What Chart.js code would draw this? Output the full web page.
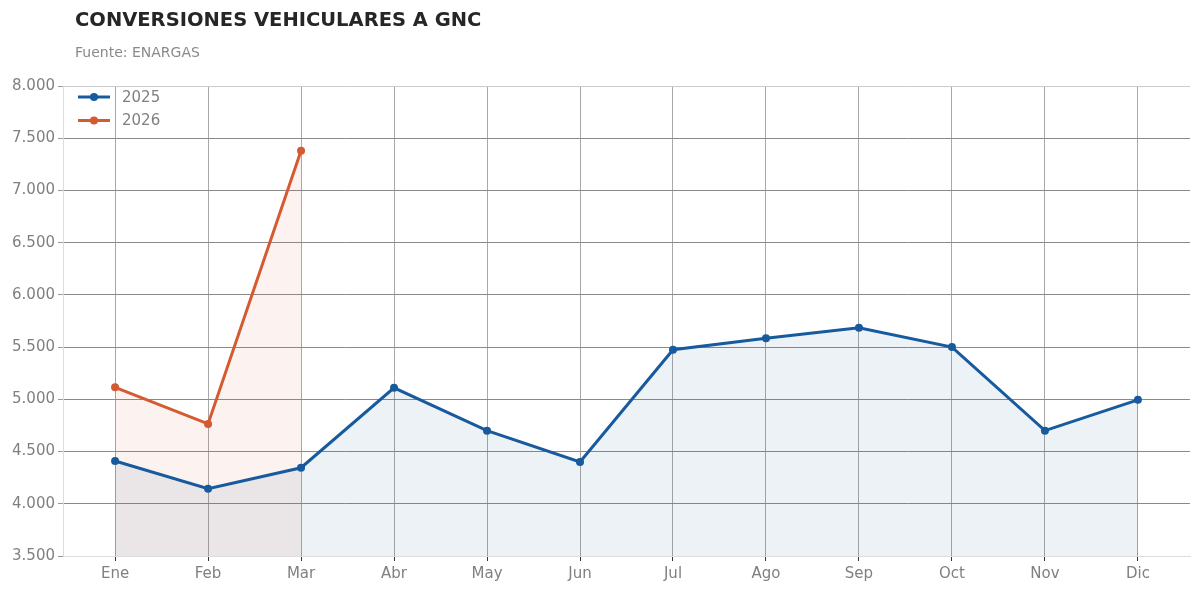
<!DOCTYPE html>
<html>
<head>
<meta charset="utf-8">
<script src="https://cdn.jsdelivr.net/npm/chart.js@4.4.0/dist/chart.umd.min.js"></script>
<style>
  html, body { margin: 0; padding: 0; background: #fff; }
  #wrap { width: 1200px; height: 592px; }
</style>
</head>
<body>
<div id="wrap"><canvas id="chart" width="1200" height="592"></canvas></div>
<script>
// Data
const months = ['Ene', 'Feb', 'Mar', 'Abr', 'May', 'Jun', 'Jul', 'Ago', 'Sep', 'Oct', 'Nov', 'Dic'];
const values2025 = [4410, 4145, 4345, 5110, 4700, 4400, 5475, 5585, 5685, 5500, 4700, 4995];
const values2026 = [5115, 4765, 7380];
const yTicks = [3500, 4000, 4500, 5000, 5500, 6000, 6500, 7000, 7500, 8000];

const FONT = "'DejaVu Sans', sans-serif";
const BLUE = 'rgb(24, 90, 158)';
const ORANGE = 'rgb(212, 90, 50)';

const toPoints = (arr) => arr.map((v, i) => ({ x: i, y: v }));
const fmt = (v) => String(v).replace(/\B(?=(\d{3})+(?!\d))/g, '.');

/**
 * Title, subtitle and in-plot legend
 */
const decorations = {
  id: 'decorations',
  afterDraw: function(chart) {
    const ctx = chart.ctx;
    const area = chart.chartArea;
    ctx.save();
    ctx.textBaseline = 'alphabetic';
    ctx.textAlign = 'left';
    ctx.fillStyle = '#262626';
    ctx.font = 'bold 19.5px ' + FONT;
    ctx.fillText('CONVERSIONES VEHICULARES A GNC', 75, 26);
    ctx.fillStyle = '#8a8a8a';
    ctx.font = '14px ' + FONT;
    ctx.fillText('Fuente: ENARGAS', 75, 57);

    // legend
    ctx.font = '15px ' + FONT;
    ctx.textBaseline = 'middle';
    chart.data.datasets.forEach((ds, i) => {
      const y = area.top + 11 + i * 23.5;
      const x0 = area.left + 15;
      ctx.strokeStyle = ds.borderColor;
      ctx.lineWidth = 3;
      ctx.beginPath();
      ctx.moveTo(x0, y);
      ctx.lineTo(x0 + 32, y);
      ctx.stroke();
      ctx.fillStyle = ds.borderColor;
      ctx.beginPath();
      ctx.arc(x0 + 16, y, 4, 0, Math.PI * 2);
      ctx.fill();
      ctx.fillStyle = '#808080';
      ctx.fillText(ds.label, x0 + 44, y + 1);
    });
    ctx.restore();
  }
};

new Chart(document.getElementById('chart'), {
  type: 'line',
  data: {
    datasets: [
      {
        label: '2025',
        data: toPoints(values2025),
        borderColor: BLUE,
        backgroundColor: 'rgba(24, 90, 158, 0.08)',
        fill: 'start',
        borderWidth: 3,
        pointRadius: 4,
        pointBackgroundColor: BLUE,
        pointBorderWidth: 0,
        tension: 0
      },
      {
        label: '2026',
        data: toPoints(values2026),
        borderColor: ORANGE,
        backgroundColor: 'rgba(212, 90, 50, 0.08)',
        fill: 'start',
        borderWidth: 3,
        pointRadius: 4,
        pointBackgroundColor: ORANGE,
        pointBorderWidth: 0,
        tension: 0
      }
    ]
  },
  options: {
    responsive: false,
    animation: false,
    layout: { padding: { top: 86, right: 10, left: 0, bottom: 0 } },
    plugins: {
      legend: { display: false },
      tooltip: { enabled: false }
    },
    scales: {
      x: {
        type: 'linear',
        min: -0.56,
        max: 11.56,
        afterBuildTicks: (scale) => {
          scale.ticks = months.map((m, i) => ({ value: i }));
        },
        afterFit: (scale) => { scale.height = 36; },
        ticks: {
          autoSkip: false,
          maxRotation: 0,
          padding: 4,
          color: '#808080',
          font: { family: FONT, size: 15 },
          callback: (v) => months[v]
        },
        grid: {
          color: '#a8a8a8',
          lineWidth: 1,
          tickLength: 5,
          tickColor: '#333'
        },
        border: { display: true, color: '#dddddd', width: 1 }
      },
      y: {
        min: 3500,
        max: 8000,
        afterBuildTicks: (scale) => {
          scale.ticks = yTicks.map((v) => ({ value: v }));
        },
        afterFit: (scale) => { scale.width = 63; },
        ticks: {
          padding: 3,
          color: '#808080',
          font: { family: FONT, size: 15 },
          callback: (v) => fmt(v)
        },
        grid: {
          color: (c) => (c.tick && (c.tick.value === 8000 || c.tick.value === 3500)) ? '#cccccc' : '#8a8a8a',
          lineWidth: 1,
          tickLength: 5,
          tickColor: '#999'
        },
        border: { display: true, color: '#dddddd', width: 1 }
      }
    }
  },
  plugins: [decorations]
});
</script>
</body>
</html>
